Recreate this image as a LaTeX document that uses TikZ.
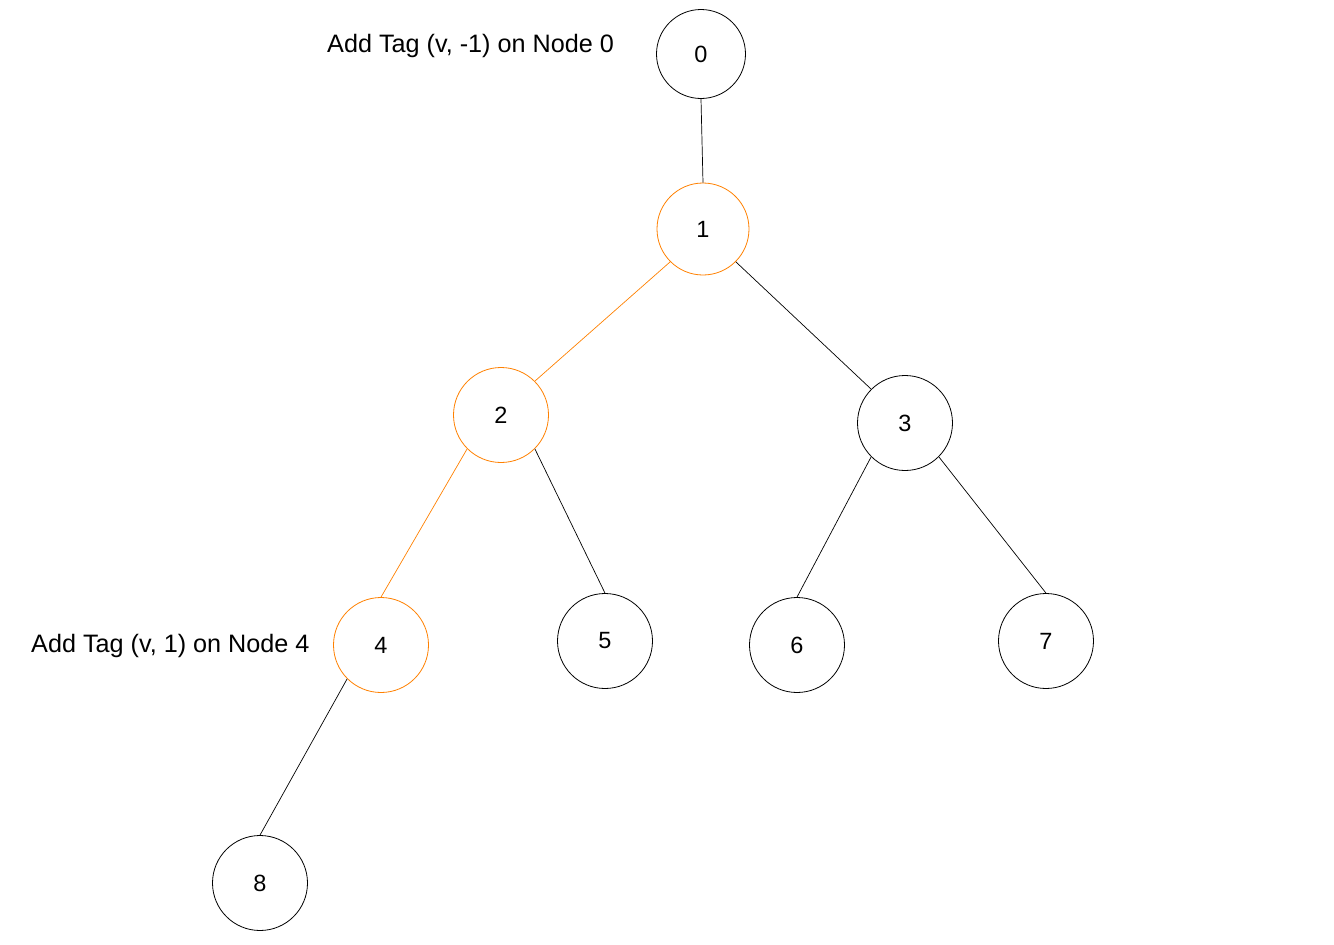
\documentclass[tikz,border=0pt]{standalone}
\usepackage{fontspec}
\setmainfont{Liberation Sans}
\usetikzlibrary{positioning}
\definecolor{tagorange}{RGB}{255,128,0}
\definecolor{edgegray}{RGB}{0,0,0}
\tikzset{
  tnode/.style={circle, draw=black, line width=0.8pt, minimum size=95pt, inner sep=0pt,
                font=\fontsize{23.5}{28}\selectfont},
  tagged/.style={tnode, draw=tagorange},
  tedge/.style={edgegray, line width=0.7pt},
  tagedge/.style={tagorange, line width=0.7pt},
  tlab/.style={anchor=west, inner sep=0pt, font=\fontsize{25.2}{30}\selectfont},
}

\begin{document}
\begin{tikzpicture}[x=1pt, y=-1pt]
  \useasboundingbox (0,0) rectangle (1334,945);
  % tree nodes
  \node[tnode, minimum size=89pt] (n0) at (701,54) {0};
  \node[tagged, minimum size=92pt] (n1) at (703,229) {1};
  \node[tagged] (n2) at (501,415) {2};
  \node[tnode] (n3) at (905,423) {3};
  \node[tagged] (n4) at (381,645) {4};
  \node[tnode] (n5) at (605,641) {5};
  \node[tnode] (n6) at (797,645) {6};
  \node[tnode] (n7) at (1046,641) {7};
  \node[tnode] (n8) at (260,883) {8};
  % edges
  \draw[tedge] (n0.south) -- (n1.north);
  \draw[tagedge] (n1.south west) -- (n2.north east);
  \draw[tedge] (n1.south east) -- (n3.north west);
  \draw[tagedge] (n2.south west) -- (n4.north);
  \draw[tedge] (n2.south east) -- (n5.north);
  \draw[tedge] (n3.south west) -- (n6.north);
  \draw[tedge] (n3.south east) -- (n7.north);
  \draw[tedge] (n4.south west) -- (n8.north);
  % tags
  \node[tlab] (lab0) at (327,46) {Add Tag (v, -1) on Node 0};
  \node[tlab] (lab4) at (31,646) {Add Tag (v, 1) on Node 4};
\end{tikzpicture}
\end{document}
